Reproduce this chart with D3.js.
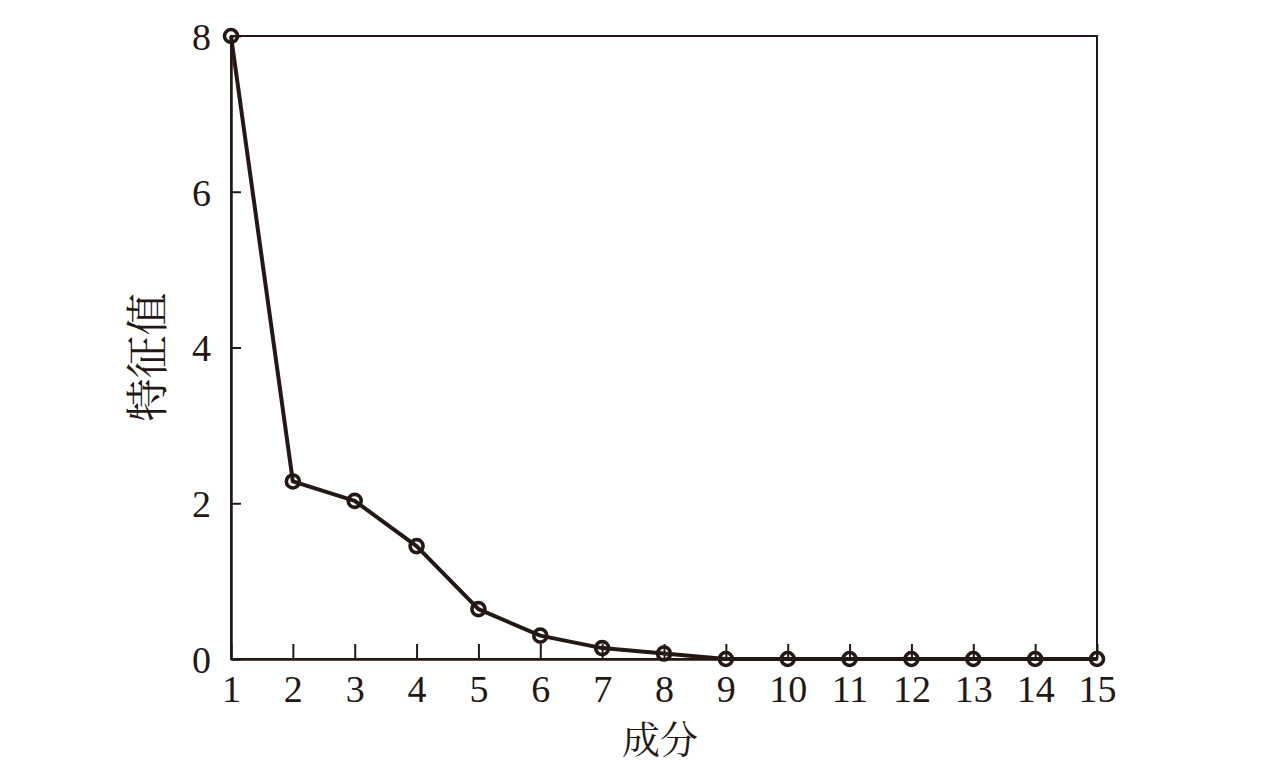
<!DOCTYPE html>
<html><head><meta charset="utf-8">
<script src="https://cdn.jsdelivr.net/npm/d3@7"></script>
<style>body{margin:0;background:#fff}</style>
</head><body>
<svg id="c" width="1276" height="767"></svg>
<script>
const components = [1,2,3,4,5,6,7,8,9,10,11,12,13,14,15];
const eigenvalues = [8.0,2.28,2.03,1.45,0.64,0.30,0.14,0.07,0.0,0.0,0.0,0.0,0.0,0.0,0.0];
const yTicks = [0,2,4,6,8];
const xLabel = "成分";
const yLabel = "特征值";

const col = "#231815";
const serif = "'Liberation Serif','Times New Roman',serif";
const cjk = "'Noto Serif CJK SC','Noto Sans CJK SC',serif";
const svg = d3.select("#c");
const L=231, R=1097, T=36, B=659;
const x = d3.scaleLinear().domain([1,15]).range([L,R]);
const y = d3.scaleLinear().domain([0,8]).range([B,T]);

// frame
svg.append("rect").attr("x",L).attr("y",T).attr("width",R-L).attr("height",B-T)
  .attr("fill","none").attr("stroke",col).attr("stroke-width",2);

const xa = svg.append("g").attr("transform",`translate(0,${B})`)
  .call(d3.axisBottom(x).tickValues(components).tickSizeInner(-15).tickSizeOuter(0).tickPadding(30).tickFormat(d3.format("d")));
const ya = svg.append("g").attr("transform",`translate(${L},0)`)
  .call(d3.axisLeft(y).tickValues(yTicks).tickSizeInner(-10).tickSizeOuter(0).tickPadding(20).tickFormat(d3.format("d")));
[xa,ya].forEach(a=>{
  a.select(".domain").attr("stroke",col).attr("stroke-width",2.5);
  a.selectAll(".tick line").attr("stroke",col).attr("stroke-width",2);
  a.selectAll("text").attr("fill",col).style("font-family",serif).style("font-size","38px");
});
xa.selectAll(".tick text").attr("dy","0.35em");
ya.selectAll(".tick text").attr("dy","0.35em");

const line = d3.line().x((d,i)=>x(components[i])).y(d=>y(d));
svg.append("path").datum(eigenvalues).attr("d",line).attr("fill","none")
  .attr("stroke",col).attr("stroke-width",4).attr("stroke-linejoin","round");
svg.selectAll("circle.m").data(eigenvalues).enter().append("circle").attr("class","m")
  .attr("cx",(d,i)=>x(components[i])).attr("cy",d=>y(d)).attr("r",6.5)
  .attr("fill","none").attr("stroke",col).attr("stroke-width",3.6);

svg.append("text").attr("x",660).attr("y",753).attr("text-anchor","middle")
  .attr("fill",col).style("font-family",cjk).style("font-size","38px").text(xLabel);
svg.append("text").attr("transform",`translate(163,357) rotate(-90)`).attr("text-anchor","middle")
  .attr("fill",col).style("font-family",cjk).style("font-size","43px").text(yLabel);
</script>
</body></html>
